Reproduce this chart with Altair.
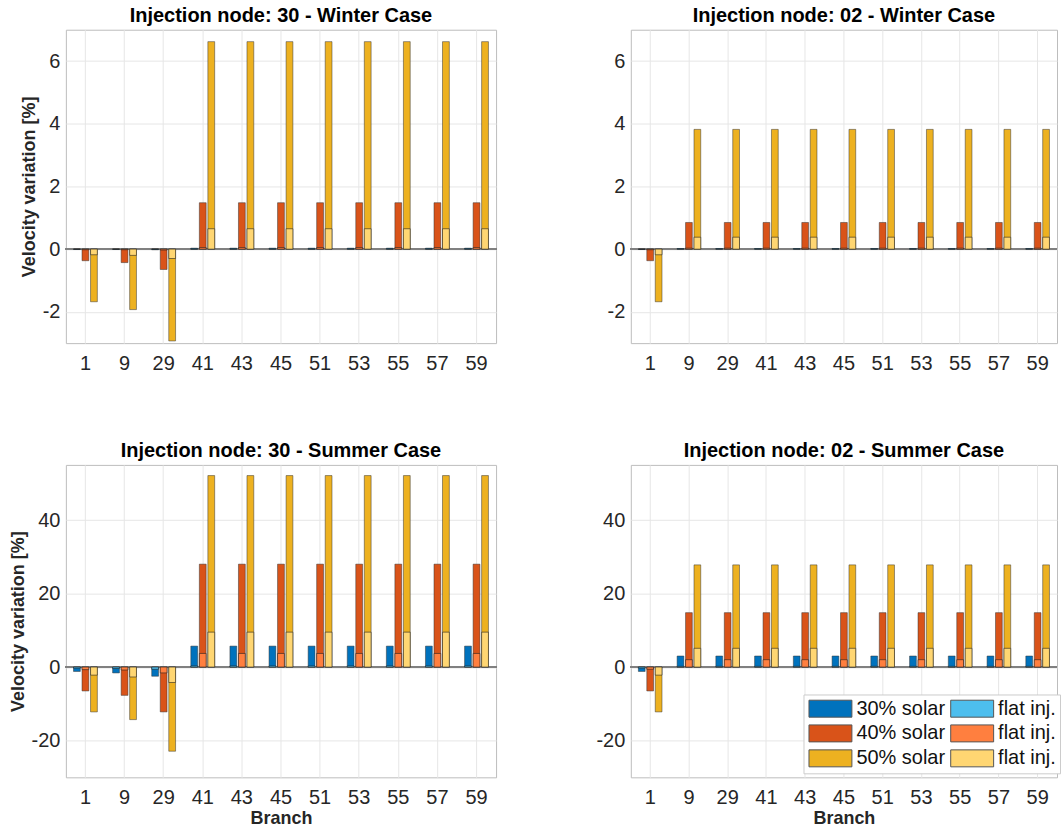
import altair as alt
import pandas as pd

FONT = "Liberation Sans"

branches = ["1", "9", "29", "41", "43", "45", "51", "53", "55", "57", "59"]
levels = ["30", "40", "50"]

# ---- Injection node 30, Winter ----
w30_solar30 = [-0.01, -0.01, -0.02, 0.03, 0.03, 0.03, 0.03, 0.03, 0.03, 0.03, 0.03]
w30_solar40 = [-0.37, -0.43, -0.65, 1.48, 1.48, 1.48, 1.48, 1.48, 1.48, 1.48, 1.48]
w30_solar50 = [-1.68, -1.93, -2.93, 6.62, 6.62, 6.62, 6.62, 6.62, 6.62, 6.62, 6.62]
w30_flat30 = [0.0, 0.0, 0.0, 0.01, 0.01, 0.01, 0.01, 0.01, 0.01, 0.01, 0.01]
w30_flat40 = [-0.02, -0.02, -0.03, 0.05, 0.05, 0.05, 0.05, 0.05, 0.05, 0.05, 0.05]
w30_flat50 = [-0.18, -0.20, -0.30, 0.65, 0.65, 0.65, 0.65, 0.65, 0.65, 0.65, 0.65]

# ---- Injection node 02, Winter ----
w02_solar30 = [-0.01, 0.02, 0.02, 0.02, 0.02, 0.02, 0.02, 0.02, 0.02, 0.02, 0.02]
w02_solar40 = [-0.37, 0.85, 0.85, 0.85, 0.85, 0.85, 0.85, 0.85, 0.85, 0.85, 0.85]
w02_solar50 = [-1.68, 3.82, 3.82, 3.82, 3.82, 3.82, 3.82, 3.82, 3.82, 3.82, 3.82]
w02_flat30 = [0.0, 0.01, 0.01, 0.01, 0.01, 0.01, 0.01, 0.01, 0.01, 0.01, 0.01]
w02_flat40 = [-0.02, 0.03, 0.03, 0.03, 0.03, 0.03, 0.03, 0.03, 0.03, 0.03, 0.03]
w02_flat50 = [-0.18, 0.38, 0.38, 0.38, 0.38, 0.38, 0.38, 0.38, 0.38, 0.38, 0.38]

# ---- Injection node 30, Summer ----
s30_solar30 = [-1.2, -1.6, -2.5, 5.7, 5.7, 5.7, 5.7, 5.7, 5.7, 5.7, 5.7]
s30_solar40 = [-6.5, -7.7, -12.2, 28.0, 28.0, 28.0, 28.0, 28.0, 28.0, 28.0, 28.0]
s30_solar50 = [-12.2, -14.3, -22.9, 52.1, 52.1, 52.1, 52.1, 52.1, 52.1, 52.1, 52.1]
s30_flat30 = [-0.3, -0.4, -0.6, 0.3, 0.3, 0.3, 0.3, 0.3, 0.3, 0.3, 0.3]
s30_flat40 = [-0.7, -0.8, -1.6, 3.7, 3.7, 3.7, 3.7, 3.7, 3.7, 3.7, 3.7]
s30_flat50 = [-2.2, -2.7, -4.2, 9.5, 9.5, 9.5, 9.5, 9.5, 9.5, 9.5, 9.5]

# ---- Injection node 02, Summer ----
s02_solar30 = [-1.2, 3.0, 3.0, 3.0, 3.0, 3.0, 3.0, 3.0, 3.0, 3.0, 3.0]
s02_solar40 = [-6.5, 14.8, 14.8, 14.8, 14.8, 14.8, 14.8, 14.8, 14.8, 14.8, 14.8]
s02_solar50 = [-12.2, 27.8, 27.8, 27.8, 27.8, 27.8, 27.8, 27.8, 27.8, 27.8, 27.8]
s02_flat30 = [-0.3, 0.2, 0.2, 0.2, 0.2, 0.2, 0.2, 0.2, 0.2, 0.2, 0.2]
s02_flat40 = [-0.6, 2.0, 2.0, 2.0, 2.0, 2.0, 2.0, 2.0, 2.0, 2.0, 2.0]
s02_flat50 = [-2.2, 5.1, 5.1, 5.1, 5.1, 5.1, 5.1, 5.1, 5.1, 5.1, 5.1]

# legend entries (filled column by column: solar column, then flat column)
keys = ["s30", "s40", "s50", "f30", "f40", "f50"]
key_labels = ["30% solar", "40% solar", "50% solar", "flat inj.", "flat inj.", "flat inj."]
key_colors = ["#0072BD", "#D95319", "#EDB120", "#4DBEEE", "#FF7F3F", "#FFD672"]

winter_ticks = [-2, 0, 2, 4, 6]
summer_ticks = [-20, 0, 20, 40]

label_expr = " : ".join(
    f"datum.value == '{k}' ? '{l}'" for k, l in zip(keys, key_labels)
) + " : ''"


def make_df(main, flat):
    rows = []
    for lvl, vals in zip(levels, main):
        for b, v in zip(branches, vals):
            rows.append({"branch": b, "level": lvl, "key": "s" + lvl, "kind": "main", "value": v})
    for lvl, vals in zip(levels, flat):
        for b, v in zip(branches, vals):
            rows.append({"branch": b, "level": lvl, "key": "f" + lvl, "kind": "flat", "value": v})
    return pd.DataFrame(rows)


def panel(title, main, flat, ydom, yticks, ytitle, xtitle, legend, width, height):
    df = make_df(main, flat)
    x_axis = alt.Axis(
        title=("Branch" if xtitle else None), labelAngle=0, labelFontSize=20, labelFont=FONT,
        labelColor="#262626", labelPadding=10, ticks=False, domain=False, grid=True,
        gridColor="#e6e6e6", titleFont=FONT, titleFontSize=18, titleFontWeight="bold",
        titleColor="#262626", titlePadding=2,
    )
    y_axis = alt.Axis(
        title=("Velocity variation [%]" if ytitle else None), values=yticks,
        labelExpr="toString(datum.value)", labelFontSize=20, labelFont=FONT,
        labelColor="#262626", labelPadding=6, ticks=False, domain=False, grid=True,
        gridColor="#e6e6e6", titleFont=FONT, titleFontSize=18, titleFontWeight="bold",
        titleColor="#262626", titlePadding=4,
    )
    x = alt.X("branch:N", sort=branches,
              scale=alt.Scale(paddingInner=0.39, paddingOuter=0.195), axis=x_axis)
    xo = alt.XOffset("level:N", sort=levels, scale=alt.Scale(paddingInner=0.2, paddingOuter=0))
    yscale = alt.Scale(domain=ydom, nice=False, zero=False)
    y = alt.Y("value:Q", scale=yscale, axis=y_axis)
    if legend:
        leg = alt.Legend(
            orient="none", legendX=173, legendY=230, columns=2, title=None,
            symbolType="M-1,-1H4.06V1H-1Z", symbolSize=289,
            symbolStrokeColor="#555555", symbolStrokeWidth=1, symbolOpacity=1,
            labelFont=FONT, labelFontSize=20, labelColor="#111111", labelOffset=29,
            rowPadding=3, columnPadding=3, padding=4, strokeColor="#cccccc",
            fillColor="white", labelExpr=label_expr, labelLimit=200,
        )
    else:
        leg = None
    color = alt.Color("key:N", scale=alt.Scale(domain=keys, range=key_colors), legend=leg)
    base = alt.Chart(df)
    rule = base.mark_rule(color="#808080", strokeWidth=1.2).encode(
        y=alt.YDatum(0, scale=yscale, axis=y_axis)
    )
    main_bars = base.transform_filter("datum.kind == 'main'").mark_bar(
        stroke="#303030", strokeWidth=0.9, strokeOpacity=0.55
    ).encode(x=x, xOffset=xo, y=y, color=color)
    flat_bars = base.transform_filter("datum.kind == 'flat'").mark_bar(
        stroke="#202020", strokeWidth=0.9, strokeOpacity=0.65
    ).encode(x=x, xOffset=xo, y=y, color=color)
    return alt.layer(rule, main_bars, flat_bars).properties(
        width=width, height=height,
        title=alt.TitleParams(title, font=FONT, fontSize=20, fontWeight="bold",
                              color="black", offset=4, anchor="middle"),
    )


tl = panel("Injection node: 30 - Winter Case",
           [w30_solar30, w30_solar40, w30_solar50], [w30_flat30, w30_flat40, w30_flat50],
           [-3, 7], winter_ticks, True, False, False, 431, 314)
tr = panel("Injection node: 02 - Winter Case",
           [w02_solar30, w02_solar40, w02_solar50], [w02_flat30, w02_flat40, w02_flat50],
           [-3, 7], winter_ticks, False, False, False, 427, 314)
bl = panel("Injection node: 30 - Summer Case",
           [s30_solar30, s30_solar40, s30_solar50], [s30_flat30, s30_flat40, s30_flat50],
           [-30, 55], summer_ticks, True, True, False, 431, 313)
br = panel("Injection node: 02 - Summer Case",
           [s02_solar30, s02_solar40, s02_solar50], [s02_flat30, s02_flat40, s02_flat50],
           [-30, 55], summer_ticks, False, True, True, 427, 313)

chart = alt.concat(
    tl, tr, bl, br, columns=2, spacing={"row": 122, "column": 135}, bounds="flush"
).resolve_scale(
    x="independent", y="independent", color="independent", xOffset="independent"
).resolve_legend(color="independent").properties(
    padding={"left": 8, "top": 4, "right": 0, "bottom": 0}, background="white"
).configure_view(stroke="#bdbdbd", strokeWidth=1)

chart.save("out.html", embed_options={"renderer": "svg", "actions": False})
